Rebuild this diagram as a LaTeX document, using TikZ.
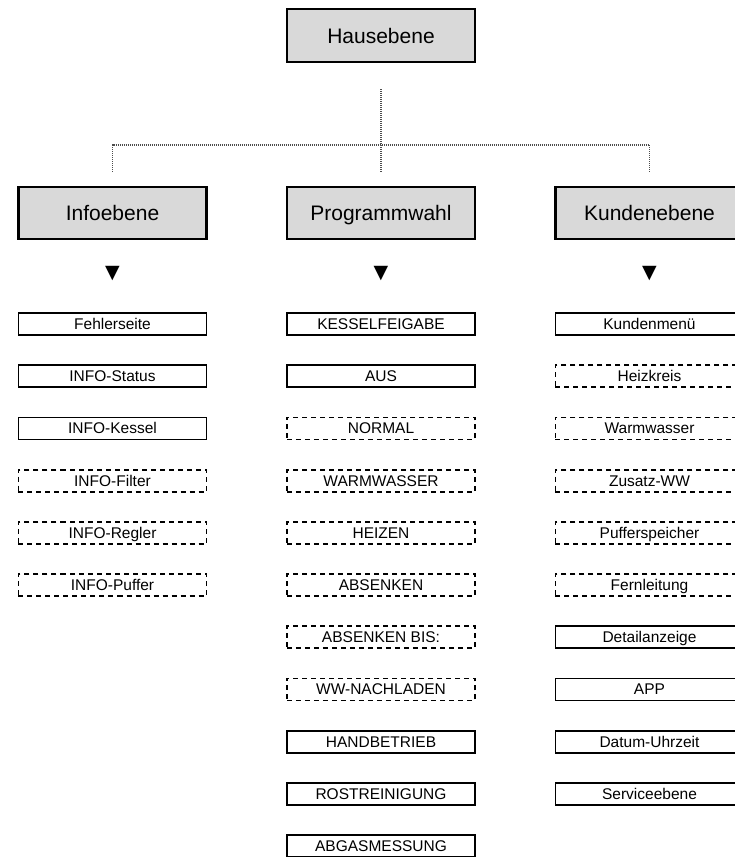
\documentclass[tikz,border=0pt]{standalone}
\usepackage{fontspec}
\setmainfont{Liberation Sans}
\newfontfamily\symbolfont{DejaVu Sans}
\usetikzlibrary{matrix}
\definecolor{levelgray}{HTML}{D9D9D9}
\tikzset{
  menu/.style={draw,line width=1.8pt,minimum width=188pt,minimum height=22pt,inner sep=0pt,
    anchor=center,text height=11pt,text depth=0pt,font=\fontsize{15.5}{16}\selectfont},
  opt/.style={dash pattern=on 5pt off 4pt},
  level/.style={menu,fill=levelgray,line width=2.2pt,minimum height=52pt,
    text height=15pt,text depth=0pt,font=\fontsize{21}{22}\selectfont},
  pointer/.style={draw=none,fill=none,minimum height=0pt,minimum width=0pt,
    text height=10pt,text depth=4pt,font=\symbolfont\fontsize{19}{19}\selectfont},
  link/.style={draw=black!70,line width=1.8pt,dash pattern=on 1pt off 1pt}
}
\begin{document}
\begin{tikzpicture}[x=1pt,y=-1pt]
  \useasboundingbox (0,0) rectangle (735,857);
  \node [level,minimum height=53pt] (haus) at (381,35.5) {Hausebene};
  \matrix (m) [matrix of nodes,nodes={menu},
    row 1/.style={nodes={level}},row 2/.style={nodes={pointer}},
    row sep={52.2pt,between origins},column sep={268.5pt,between origins},
    matrix anchor=m-1-2.center] at (381,213)
  {
    Infoebene           & Programmwahl          & Kundenebene           \\[9.8pt]
    ▼                   & ▼                     & ▼                     \\[-3.2pt]
    Fehlerseite         & KESSELFEIGABE         & Kundenmenü            \\
    INFO-Status         & AUS                   & |[opt]| Heizkreis      \\
    INFO-Kessel         & |[opt]| NORMAL        & |[opt]| Warmwasser     \\
    |[opt]| INFO-Filter & |[opt]| WARMWASSER    & |[opt]| Zusatz-WW      \\
    |[opt]| INFO-Regler & |[opt]| HEIZEN        & |[opt]| Pufferspeicher \\
    |[opt]| INFO-Puffer & |[opt]| ABSENKEN      & |[opt]| Fernleitung    \\
                        & |[opt]| ABSENKEN BIS: & Detailanzeige         \\
                        & |[opt]| WW-NACHLADEN  & APP                   \\
                        & HANDBETRIEB           & Datum-Uhrzeit         \\
                        & ROSTREINIGUNG         & Serviceebene          \\
                        & ABGASMESSUNG          &                       \\
  };
  \coordinate (hub) at (m-1-2.north |- 0,145);
  \draw [link] ([yshift=-26pt]haus.south) -- ([yshift=14pt]m-1-2.north);
  \draw [link] ([yshift=14pt]m-1-1.north) |- (hub) -| ([yshift=14pt]m-1-3.north);
\end{tikzpicture}
\end{document}
